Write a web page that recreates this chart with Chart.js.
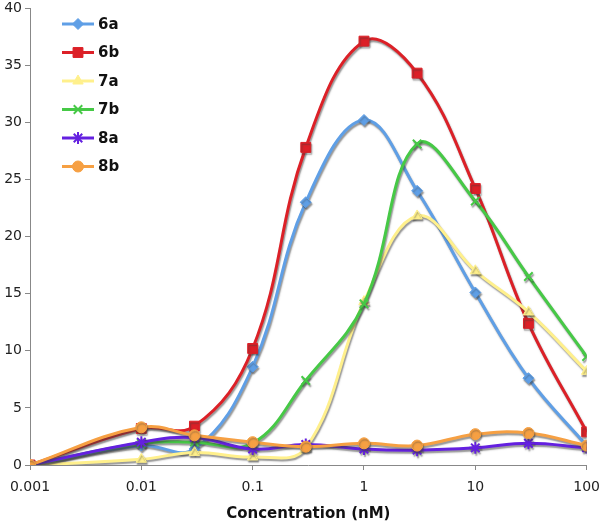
<!DOCTYPE html>
<html>
<head>
<meta charset="utf-8">
<script src="https://cdn.jsdelivr.net/npm/chart.js@4.4.1/dist/chart.umd.min.js"></script>
<style>
  html, body { margin: 0; padding: 0; background: #ffffff; }
  #wrap { width: 600px; height: 524px; }
</style>
</head>
<body>
<div id="wrap"><canvas id="c" width="600" height="524"></canvas></div>
<script>
// Concentrations (nM)
const concentrations = [0.001, 0.01, 0.03, 0.1, 0.3, 1, 3, 10, 30, 100];
const xTickValues = [0.001, 0.01, 0.1, 1, 10, 100];
const xTickLabels = ['0.001', '0.01', '0.1', '1', '10', '100'];

const seriesNames = ['6a', '6b', '7a', '7b', '8a', '8b'];
const s6a = [0, 1.7, 1.4, 8.6, 23.0, 30.2, 24.0, 15.1, 7.6, 1.7];
const s6b = [0, 3.2, 3.4, 10.2, 27.8, 37.1, 34.3, 24.2, 12.4, 2.9];
const s7a = [0, 0.5, 1.1, 0.7, 1.5, 14.3, 21.8, 17.0, 13.4, 8.2];
const s7b = [0, 1.9, 2.0, 1.9, 7.4, 14.1, 28.1, 23.1, 16.5, 9.5];
const s8a = [0, 2.0, 2.4, 1.4, 1.8, 1.4, 1.3, 1.5, 1.9, 1.5];
const s8b = [0, 3.3, 2.6, 2.0, 1.6, 1.9, 1.7, 2.7, 2.8, 1.7];

const seriesValues = [s6a, s6b, s7a, s7b, s8a, s8b];
const seriesColors = ['#5f9fe6', '#dc2027', '#fff08c', '#46c946', '#6420e0', '#f6a043'];
const seriesMarkers = ['rectRot', 'rect', 'triangle', 'crossRot', 'star', 'circle'];
const markerRadius = [5.5, 7, 6, 6, 6, 5.5];

const FONT = '"DejaVu Sans", Verdana, sans-serif';

const datasets = seriesNames.map((name, i) => ({
  label: name,
  data: concentrations.map((x, j) => ({ x: x, y: seriesValues[i][j] })),
  borderColor: seriesColors[i],
  backgroundColor: seriesColors[i],
  pointBackgroundColor: seriesColors[i],
  pointBorderColor: seriesColors[i],
  pointStyle: seriesMarkers[i],
  pointRadius: markerRadius[i],
  pointBorderWidth: (seriesMarkers[i] === 'crossRot' || seriesMarkers[i] === 'star') ? 2 : 1,
  borderWidth: 3,
  tension: 0.4,
  fill: false,
  order: seriesNames.length - i
}));

const shadowPlugin = {
  id: 'shadow',
  beforeDatasetDraw(chart) {
    const ctx = chart.ctx;
    ctx.save();
    ctx.shadowColor = 'rgba(60,60,60,0.55)';
    ctx.shadowOffsetX = 1;
    ctx.shadowOffsetY = 2;
    ctx.shadowBlur = 1.5;
  },
  afterDatasetDraw(chart) {
    chart.ctx.restore();
  }
};

const legendPlugin = {
  id: 'customLegend',
  afterDraw(chart) {
    const ctx = chart.ctx;
    ctx.save();
    chart.data.datasets.forEach((ds, i) => {
      const y = 24 + i * 28.5;
      ctx.strokeStyle = ds.borderColor;
      ctx.lineWidth = 3;
      ctx.beginPath();
      ctx.moveTo(62, y);
      ctx.lineTo(94, y);
      ctx.stroke();
      const opts = {
        pointStyle: ds.pointStyle,
        radius: ds.pointRadius,
        rotation: 0,
        borderWidth: ds.pointBorderWidth
      };
      ctx.fillStyle = ds.backgroundColor;
      ctx.strokeStyle = ds.borderColor;
      ctx.lineWidth = ds.pointBorderWidth;
      Chart.helpers.drawPoint(ctx, opts, 78, y);
      ctx.fillStyle = '#111';
      ctx.font = 'bold 15px ' + FONT;
      ctx.textAlign = 'left';
      ctx.textBaseline = 'middle';
      ctx.fillText(ds.label, 98, y + 1);
    });
    ctx.restore();
  }
};

new Chart(document.getElementById('c'), {
  type: 'line',
  data: { datasets: datasets },
  plugins: [shadowPlugin, legendPlugin],
  options: {
    responsive: false,
    animation: false,
    devicePixelRatio: 1,
    layout: { padding: { top: 0, right: 0, left: 0, bottom: 0 } },
    plugins: { legend: { display: false }, tooltip: { enabled: false } },
    scales: {
      x: {
        type: 'logarithmic',
        min: 0.001,
        max: 100,
        afterBuildTicks(scale) {
          scale.ticks = xTickValues.map(v => ({ value: v }));
        },
        afterFit(scale) { scale.height = 59; },
        ticks: {
          autoSkip: false,
          maxRotation: 0,
          padding: 0,
          color: '#222',
          font: { family: FONT, size: 14, lineHeight: 2.5 },
          callback: (v, i) => xTickLabels[i]
        },
        grid: { drawOnChartArea: false, drawTicks: true, tickLength: 5, color: '#888' },
        border: { color: '#888', width: 1 },
        title: {
          display: true,
          text: 'Concentration (nM)',
          color: '#111',
          font: { family: FONT, size: 15, weight: 'bold' },
          padding: { top: 4, bottom: 1 }
        }
      },
      y: {
        min: 0,
        max: 40,
        afterFit(scale) { scale.width = 30; },
        ticks: {
          stepSize: 5,
          padding: 3,
          color: '#222',
          font: { family: FONT, size: 14, lineHeight: 0.7 }
        },
        grid: { drawOnChartArea: false, drawTicks: true, tickLength: 5, color: '#888' },
        border: { color: '#888', width: 1 }
      }
    }
  }
});
</script>
</body>
</html>
